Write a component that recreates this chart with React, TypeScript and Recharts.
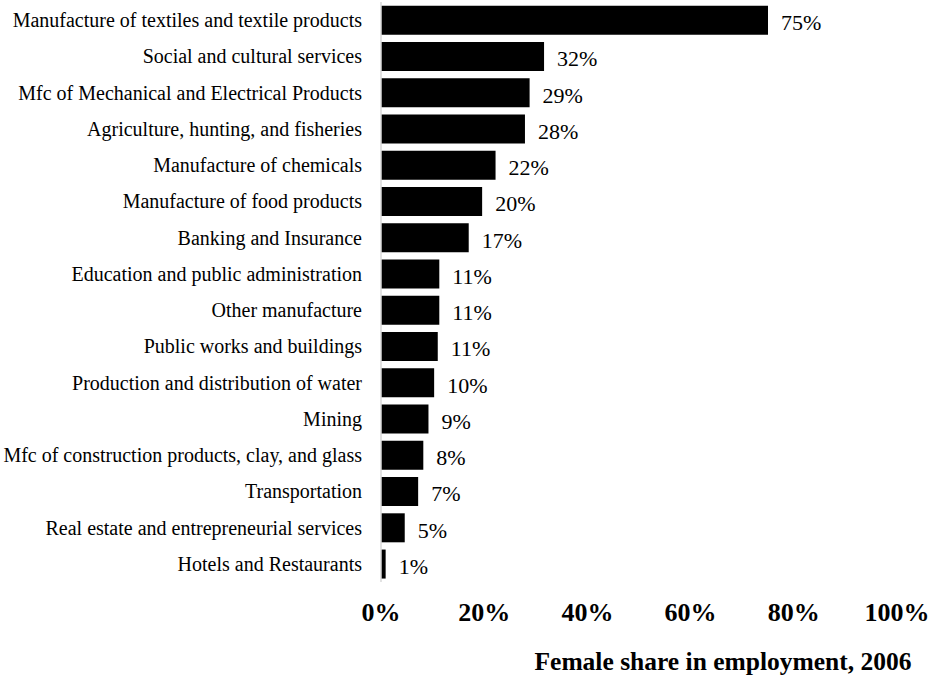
import React from "react";
import { BarChart, Bar, XAxis, YAxis, LabelList } from "recharts";

const categories = [
  "Manufacture of textiles and textile products",
  "Social and cultural services",
  "Mfc of Mechanical and Electrical Products",
  "Agriculture, hunting, and fisheries",
  "Manufacture of chemicals",
  "Manufacture of food products",
  "Banking and Insurance",
  "Education and public administration",
  "Other manufacture",
  "Public works and buildings",
  "Production and distribution of water",
  "Mining",
  "Mfc of construction products, clay, and glass",
  "Transportation",
  "Real estate and entrepreneurial services",
  "Hotels and Restaurants",
];

const values = [75.0, 31.6, 28.8, 27.9, 22.2, 19.6, 17.0, 11.3, 11.3, 11.0, 10.3, 9.2, 8.2, 7.2, 4.6, 0.9];

const valueLabels = ["75%", "32%", "29%", "28%", "22%", "20%", "17%", "11%", "11%", "11%", "10%", "9%", "8%", "7%", "5%", "1%"];

const xTicks = [0, 20, 40, 60, 80, 100];

const axisTitle = "Female share in employment, 2006";

const data = categories.map((name, i) => ({ name, value: values[i], label: valueLabels[i] }));

const FONT = "'Liberation Serif', serif";

export default function App() {
  return (
    <div style={{ position: "absolute", left: 0, top: 0, width: 934, height: 681, background: "#fff" }}>
      <BarChart
        width={934}
        height={681}
        data={data}
        layout="vertical"
        margin={{ top: 2, right: 37, left: 0, bottom: 4 }}
        barCategoryGap="10.5%"
      >
        <XAxis
          type="number"
          domain={[0, 100]}
          ticks={xTicks}
          tickFormatter={(v) => `${v}%`}
          axisLine={false}
          tickLine={false}
          tickSize={0}
          tickMargin={21}
          height={95}
          tick={{ fontFamily: FONT, fontSize: 26, fontWeight: "bold", fill: "#000" }}
          label={{
            value: axisTitle,
            position: "insideBottom",
            offset: 7,
            dx: 84,
            style: { fontFamily: FONT, fontSize: 25.5, fontWeight: "bold", fill: "#000" },
          }}
        />
        <YAxis
          type="category"
          dataKey="name"
          width={381}
          interval={0}
          axisLine={{ stroke: "#d9d9d9", strokeWidth: 1.5 }}
          tickLine={false}
          tickSize={0}
          tickMargin={19}
          tick={{ fontFamily: FONT, fontSize: 20, fill: "#000" }}
        />
        <Bar dataKey="value" fill="#000" isAnimationActive={false}>
          <LabelList
            dataKey="label"
            position="right"
            offset={13}
            dy={2}
            style={{ fontFamily: FONT, fontSize: 22, fill: "#000" }}
          />
        </Bar>
      </BarChart>
    </div>
  );
}
